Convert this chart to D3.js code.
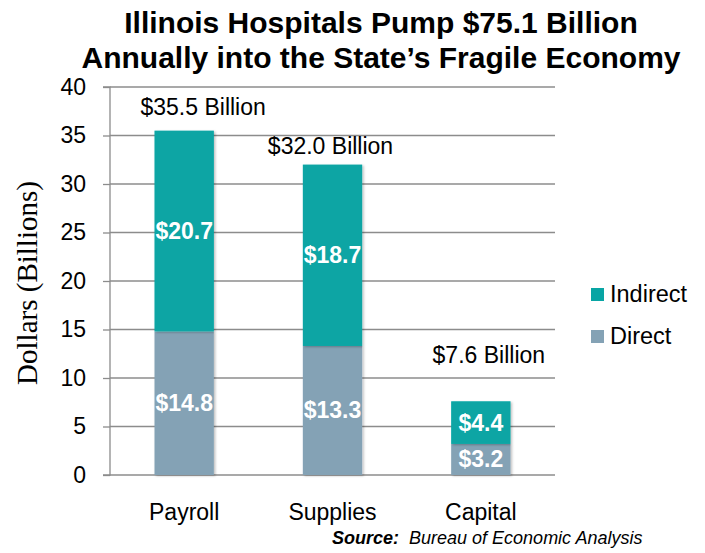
<!DOCTYPE html>
<html><head><meta charset="utf-8">
<script src="https://cdn.jsdelivr.net/npm/d3@7"></script>
<style>body{margin:0;background:#fff}svg{display:block}</style>
</head><body>
<svg id="chart" width="705" height="553"></svg>
<script>
const categories = ["Payroll", "Supplies", "Capital"];
const direct = [14.8, 13.3, 3.2];
const indirect = [20.7, 18.7, 4.4];
const totals = [35.5, 32.0, 7.6];
const totalLabels = ["$35.5 Billion", "$32.0 Billion", "$7.6 Billion"];
const yTicks = [0, 5, 10, 15, 20, 25, 30, 35, 40];
const seriesNames = ["Indirect", "Direct"];

const colors = {Indirect: "#08A5A4", Direct: "#84A2B5"};
const totalLabelDx = [19, -2, 8];
const totalLabelDy = [-16, -11, -38];
const FONT = "Liberation Sans, Arial, sans-serif";

const svg = d3.select("#chart");
const pLeft = 110, pRight = 555, pTop = 87, pBottom = 475;

const x = d3.scaleBand().domain(categories).range([pLeft, pRight]).paddingInner(0.6).paddingOuter(0.3);
const y = d3.scaleLinear().domain([0, 40]).range([pBottom, pTop]);

// title
svg.append("text").attr("x", 381).attr("y", 33).attr("text-anchor", "middle")
  .attr("font-family", FONT).attr("font-weight", "bold").attr("font-size", 30)
  .text("Illinois Hospitals Pump $75.1 Billion");
svg.append("text").attr("x", 381).attr("y", 68).attr("text-anchor", "middle")
  .attr("font-family", FONT).attr("font-weight", "bold").attr("font-size", 30)
  .text("Annually into the State\u2019s Fragile Economy");

// gridlines
svg.append("g").selectAll("line").data(yTicks.filter(d => d > 0)).join("line")
  .attr("x1", pLeft).attr("x2", pRight).attr("y1", d => y(d)).attr("y2", d => y(d))
  .attr("stroke", "#8c8c8c").attr("stroke-width", 1.3);

// y axis
const yAxis = svg.append("g").attr("transform", `translate(${pLeft},0)`)
  .call(d3.axisLeft(y).tickValues(yTicks).tickSize(7).tickPadding(17).tickFormat(d3.format("d")));
yAxis.select(".domain").attr("stroke", "#8c8c8c").attr("stroke-width", 1.3).attr("d", `M-7,${y(40)}H0V${y(0)}H-7`);
yAxis.selectAll(".tick line").attr("stroke", "#8c8c8c").attr("stroke-width", 1.3);
yAxis.selectAll(".tick text").attr("font-family", FONT).attr("font-size", 23).attr("fill", "#000");

// x baseline
svg.append("line").attr("x1", pLeft).attr("x2", pRight).attr("y1", pBottom).attr("y2", pBottom)
  .attr("stroke", "#8c8c8c").attr("stroke-width", 1.3);
const xAxis = svg.append("g").attr("transform", `translate(0,${pBottom})`)
  .call(d3.axisBottom(x).tickSize(0).tickPadding(29));
xAxis.select(".domain").remove();
xAxis.selectAll(".tick text").attr("font-family", FONT).attr("font-size", 23).attr("fill", "#000");

// y label
svg.append("text").attr("transform", `translate(37,283) rotate(-90)`).attr("text-anchor", "middle")
  .attr("font-family", "Liberation Serif, Times New Roman, serif").attr("font-size", 29)
  .text("Dollars (Billions)");

// stacked bars
const data = categories.map((c, i) => ({cat: c, Direct: direct[i], Indirect: indirect[i]}));
const stack = d3.stack().keys(["Direct", "Indirect"])(data);
const defs = svg.append("defs");
defs.append("filter").attr("id", "sh").attr("x", "-10%").attr("y", "-10%").attr("width", "130%").attr("height", "130%")
  .html('<feDropShadow dx="1.5" dy="1" stdDeviation="1" flood-color="#000" flood-opacity="0.25"/>');

const barG = svg.append("g");
stack.forEach(layer => {
  barG.selectAll(null).data(layer).join("rect")
    .attr("x", d => x(d.data.cat)).attr("width", x.bandwidth())
    .attr("y", d => y(d[1])).attr("height", d => y(d[0]) - y(d[1]))
    .attr("fill", colors[layer.key]).attr("filter", "url(#sh)");
});
stack.forEach(layer => {
  svg.append("g").selectAll("text").data(layer).join("text")
    .attr("x", d => x(d.data.cat) + x.bandwidth() / 2)
    .attr("y", d => y((d[0] + d[1]) / 2) + 8)
    .attr("text-anchor", "middle").attr("fill", "#fff")
    .attr("font-family", FONT).attr("font-weight", "bold").attr("font-size", 23)
    .text(d => "$" + (d[1] - d[0]).toFixed(1));
});

// totals
svg.append("g").selectAll("text").data(totals).join("text")
  .attr("x", (d, i) => x(categories[i]) + x.bandwidth() / 2 + totalLabelDx[i])
  .attr("y", (d, i) => y(d) + totalLabelDy[i])
  .attr("text-anchor", "middle").attr("font-family", FONT).attr("font-size", 23)
  .text((d, i) => totalLabels[i]);

// legend
const lg = svg.append("g").attr("transform", "translate(591,288)");
seriesNames.forEach((s, i) => {
  lg.append("rect").attr("x", 0).attr("y", i * 42).attr("width", 13).attr("height", 13).attr("fill", colors[s]);
  lg.append("text").attr("x", 19).attr("y", i * 42 + 14).attr("font-family", FONT)
    .attr("font-size", 23.5).text(s);
});

// source
const src = svg.append("text").attr("x", 332).attr("y", 544)
  .attr("font-family", FONT).attr("font-size", 18).attr("font-style", "italic");
src.append("tspan").attr("font-weight", "bold").text("Source:");
src.append("tspan").text("\u00a0 Bureau of Economic Analysis");
</script>
</body></html>
